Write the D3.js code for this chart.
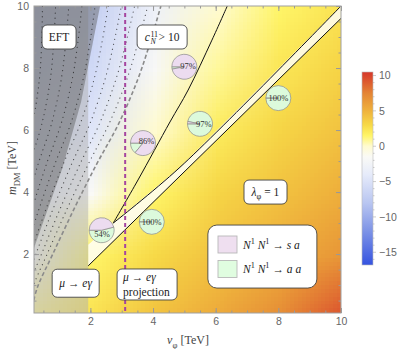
<!DOCTYPE html>
<html>
<head>
<meta charset="utf-8">
<script src="https://cdn.jsdelivr.net/npm/d3@7"></script>
<style>
html, body { margin:0; padding:0; background:#fff; }
svg { display:block; }
.tick text { font-family: "Liberation Sans", Arial, sans-serif; }
</style>
</head>
<body>
<svg id="chart" width="405" height="349"></svg>
<script>
// values
var vGrid = [0, 2, 4, 6, 8, 10];
var mGrid = [0, 2, 4, 6, 8, 10];
// fieldRows[j][i] -> value at m = mGrid[j], v = vGrid[i]
var fieldRows = [
    [1, 2.5, 4.2, 5.5, 7.0, 9.5],
    [-3, 1.5, 3.0, 4.2, 5.3, 6.5],
    [-5, -1.5, 1.5, 3.2, 4.2, 5.2],
    [-6, -4.5, 0.0, 2.0, 3.2, 4.2],
    [-7, -6, -1.8, 0.8, 2.3, 3.3],
    [-8, -7, -3.0, 0.0, 1.5, 2.5]
];
var colorVals = [-16.8, -12, -8, -4, -1.5, 0, 1.5, 3, 5, 7.5, 10.5];
var colorHex = ["#3553e0", "#7d93e6", "#b9c6f1", "#e6ebfa", "#fafaf6", "#fffbd0",
                "#fff568", "#f7d947", "#efb23c", "#e48435", "#d6362a"];
var cbarTicks = [10, 5, 0, -5, -10, -15];
var xTicks = [2, 4, 6, 8, 10];
var yTicks = [2, 4, 6, 8, 10];

var megBound = 1.93;
var eftEdge = [[0.2, 2.2], [1.1, 4.75], [1.7, 6.9], [2.31, 10]];
var cn10Curve = [[0.1, 0.1], [0.3, 0.9], [0.8, 2.0], [1.5, 3.5], [2.2, 4.9], [2.9, 6.2], [3.5, 7.6], [3.9, 8.8], [4.25, 10]];
// other c_N contours: shift at the top of the plot, in TeV
var cnShifts = [0.42, 0.84, 1.26, 1.68, 2.1, 2.52, 2.94, 3.36, 3.78];
var steepCurve = [[2.73, 3.0], [3.52, 4.39], [4.54, 6.26], [5.12, 7.29], [5.88, 8.9], [6.37, 10]];
var stripStart = [1.93, 2.3];
var upperLine = [[2.73, 3.0], [4.86, 4.8], [10, 10]];
var lowerLine = [[1.93, 1.62], [10, 9.6]];
var projV = 3.11;

var pieV = [2.36, 3.96, 3.68, 5.5, 5.0, 8.0];
var pieM = [2.77, 3.04, 5.58, 6.2, 8.04, 7.03];
var pieAA = [54, 100, 14, 97, 3, 100];

var svg = d3.select("#chart");
var x = d3.scaleLinear().domain([0.2, 10]).range([34, 341]);
var y = d3.scaleLinear().domain([0.1, 10]).range([313, 6]);
var color = d3.scaleLinear().domain(colorVals).range(colorHex).clamp(true);
var serif = '"Liberation Serif", "DejaVu Serif", serif';

var defs = svg.append("defs");
defs.append("clipPath").attr("id", "plotClip").append("rect")
    .attr("x", x(0.2)).attr("y", y(10)).attr("width", x(10) - x(0.2)).attr("height", y(0.1) - y(10));

// background field as a small image, smoothed when scaled up
var cv = document.createElement("canvas");
cv.width = vGrid.length;
cv.height = mGrid.length;
var ctx = cv.getContext("2d");
var img = ctx.createImageData(cv.width, cv.height);
for (var j = 0; j < mGrid.length; j++) {
    for (var i = 0; i < vGrid.length; i++) {
        var c = d3.rgb(color(fieldRows[mGrid.length - 1 - j][i]));
        var k = (j * cv.width + i) * 4;
        img.data[k] = c.r; img.data[k + 1] = c.g; img.data[k + 2] = c.b; img.data[k + 3] = 255;
    }
}
ctx.putImageData(img, 0, 0);

var plot = svg.append("g").attr("clip-path", "url(#plotClip)");
var halfV = (vGrid[1] - vGrid[0]) / 2, halfM = (mGrid[1] - mGrid[0]) / 2;
plot.append("image")
    .attr("href", cv.toDataURL())
    .attr("x", x(vGrid[0] - halfV)).attr("y", y(mGrid[mGrid.length - 1] + halfM))
    .attr("width", x(vGrid[vGrid.length - 1] + halfV) - x(vGrid[0] - halfV))
    .attr("height", y(mGrid[0] - halfM) - y(mGrid[mGrid.length - 1] + halfM))
    .attr("preserveAspectRatio", "none");

var line = d3.line().x(function(d){ return x(d[0]); }).y(function(d){ return y(d[1]); });
var smooth = d3.line().x(function(d){ return x(d[0]); }).y(function(d){ return y(d[1]); }).curve(d3.curveCatmullRom);

// resonance strip
var strip = [stripStart].concat(upperLine).concat(lowerLine.slice().reverse());
plot.append("path").attr("d", line(strip) + "Z").attr("fill", "#fff").attr("opacity", 0.8);

// mu -> e gamma band and EFT region
plot.append("rect").attr("x", x(0.2)).attr("y", y(10))
    .attr("width", x(megBound) - x(0.2)).attr("height", y(0.1) - y(10))
    .attr("fill", "#b0b0b0").attr("opacity", 0.5);
plot.append("path").attr("d", line(eftEdge.concat([[0.2, 10]])) + "Z")
    .attr("fill", "#5a5a5a").attr("opacity", 0.45);

// c_N contours, the shift narrows towards small m
cnShifts.forEach(function(s){
    plot.append("path")
        .attr("d", smooth(cn10Curve.map(function(p){ return [p[0] - s * (p[1] + 4) / 14, p[1]]; })))
        .attr("fill", "none").attr("stroke", "#222").attr("stroke-width", 1.2)
        .attr("stroke-linecap", "round").attr("stroke-dasharray", "0.1,5").attr("opacity", 0.75);
});
plot.append("path").attr("d", smooth(cn10Curve))
    .attr("fill", "none").attr("stroke", "#8a8a8a").attr("stroke-width", 1.6)
    .attr("stroke-dasharray", "4,2.5");

// black boundaries
[steepCurve, upperLine, lowerLine].forEach(function(pts){
    plot.append("path").attr("d", smooth(pts))
        .attr("fill", "none").attr("stroke", "#111").attr("stroke-width", 1);
});

// projection line
plot.append("line").attr("x1", x(projV)).attr("x2", x(projV)).attr("y1", y(10)).attr("y2", y(0.1))
    .attr("stroke", "#a5459f").attr("stroke-width", 2).attr("stroke-dasharray", "4,3");

// pies
var pieR = 12.5;
var pie = d3.pie().sort(null).startAngle(1.5 * Math.PI).endAngle(-0.5 * Math.PI);
var arc = d3.arc().innerRadius(0).outerRadius(pieR);
pieV.forEach(function(v, n){
    var g = svg.append("g").attr("transform", "translate(" + x(v) + "," + y(pieM[n]) + ")");
    var aa = pieAA[n];
    var arcs = pie([aa, 100 - aa]);
    g.selectAll("path").data(arcs).enter().append("path")
        .attr("d", arc)
        .attr("fill", function(d, i){ return i === 0 ? "#dcfadc" : "#ecdcf0"; })
        .attr("stroke", "#8a8a8a").attr("stroke-width", 0.7);
    var dom = aa >= 50 ? arcs[0] : arcs[1];
    var mid = (dom.startAngle + dom.endAngle) / 2;
    var off = (aa === 100 || aa === 0) ? 0 : pieR * 0.3;
    g.append("text")
        .attr("x", off * Math.sin(mid)).attr("y", -off * Math.cos(mid) + 3)
        .attr("text-anchor", "middle").attr("font-family", serif).attr("font-size", 8.5)
        .attr("fill", "#333").text(Math.max(aa, 100 - aa) + "%");
});

function rich(t, parts, size) {
    var shift = 0;
    parts.forEach(function(p){
        var kind = p[1] || "r";
        var target = 0, fs = size;
        if (kind.indexOf("sub") >= 0) { target = size * 0.3; fs = size * 0.72; }
        if (kind.indexOf("sup") >= 0) { target = -size * 0.4; fs = size * 0.72; }
        var span = t.append("tspan").text(p[0]).attr("dy", target - shift).attr("font-size", fs);
        if (kind.charAt(0) === "i") span.attr("font-style", "italic");
        shift = target;
    });
}

function box(v, m, w, h, r) {
    svg.append("rect").attr("x", x(v) - w / 2).attr("y", y(m) - h / 2)
        .attr("width", w).attr("height", h).attr("rx", r || 5)
        .attr("fill", "#fff").attr("stroke", "#444").attr("stroke-width", 0.9);
}
function label(v, m, parts, size, anchor, dx) {
    var t = svg.append("text").attr("x", x(v) + (dx || 0)).attr("y", y(m) + size * 0.33)
        .attr("text-anchor", anchor || "middle").attr("font-family", serif)
        .attr("font-size", size).attr("fill", "#222");
    rich(t, parts, size);
    return t;
}

box(1.0, 9.0, 34, 24);
label(1.0, 9.0, [["EFT"]], 11.5);

box(4.29, 9.0, 50, 24);
var cg = svg.append("g").attr("font-family", serif).attr("fill", "#222");
var c0 = cg.append("text").attr("font-size", 11.5).attr("font-style", "italic").text("c");
var sup = cg.append("text").attr("font-size", 8).text("11");
var sub = cg.append("text").attr("font-size", 8).attr("font-style", "italic").text("N");
var rest = cg.append("text").attr("font-size", 11.5).text(" > 10");
var wc = c0.node().getComputedTextLength(), ws = sup.node().getComputedTextLength(), wr = rest.node().getComputedTextLength();
var x0 = x(4.29) - (wc + ws + 1 + wr) / 2, yb = y(9.0) + 4;
c0.attr("x", x0).attr("y", yb);
sup.attr("x", x0 + wc + 0.5).attr("y", yb - 4.5);
sub.attr("x", x0 + wc + 0.5).attr("y", yb + 3);
rest.attr("x", x0 + wc + ws + 1).attr("y", yb);

box(1.53, 1.06, 47, 28);
label(1.53, 1.06, [["μ", "i"], [" → "], ["eγ", "i"]], 11.5);

box(3.81, 1.02, 60, 31);
label(3.81, 1.02, [["μ", "i"], [" → "], ["eγ", "i"]], 11.5, "start", -24).attr("transform", "translate(0,-7)");
label(3.81, 1.02, [["projection"]], 11.5, "start", -24).attr("transform", "translate(0,8)");

box(7.59, 4.0, 43, 24);
label(7.59, 4.0, [["λ", "i"], ["φ", "sub"], [" = 1"]], 11.5);

// legend
box(7.49, 1.92, 109, 63, 9);
[["#efdff0", " s a"], ["#e0fde0", " a a"]].forEach(function(it, n){
    var cy = 244.5 + n * 24.5;
    svg.append("rect").attr("x", 218).attr("y", cy - 8.5).attr("width", 19).attr("height", 17)
        .attr("fill", it[0]).attr("stroke", "#b8b8b8").attr("stroke-width", 0.9);
    var t = svg.append("text").attr("x", 243).attr("y", cy + 4).attr("font-family", serif)
        .attr("font-size", 11.5).attr("fill", "#222");
    rich(t, [["N", "i"], ["1", "sup"], [" "], ["N", "i"], ["1", "sup"], [" → "], [it[1], "i"]], 11.5);
});

// frame and ticks
var minor = d3.range(0.5, 10.01, 0.5);
function ticks(axis, vals, size, tx, ty, lab) {
    var g = svg.append("g").attr("transform", "translate(" + tx + "," + ty + ")")
        .call(axis.tickValues(vals).tickSizeInner(size).tickSizeOuter(0).tickPadding(5)
            .tickFormat(lab ? d3.format("d") : ""));
    g.select(".domain").remove();
    g.selectAll("line").attr("stroke", "#999");
    g.selectAll("text").attr("fill", "#666").attr("font-size", 10.5);
    return g;
}
ticks(d3.axisBottom(x), xTicks, -5, 0, y(0.1), true);
ticks(d3.axisBottom(x), minor.filter(function(d){ return d >= 0.2; }), -2.5, 0, y(0.1), false);
ticks(d3.axisTop(x), xTicks, -5, 0, y(10), false);
ticks(d3.axisTop(x), minor.filter(function(d){ return d >= 0.2; }), -2.5, 0, y(10), false);
ticks(d3.axisLeft(y), yTicks, -5, x(0.2), 0, true);
ticks(d3.axisLeft(y), minor.filter(function(d){ return d >= 0.1; }), -2.5, x(0.2), 0, false);
ticks(d3.axisRight(y), yTicks, -5, x(10), 0, false);
ticks(d3.axisRight(y), minor.filter(function(d){ return d >= 0.1; }), -2.5, x(10), 0, false);
svg.append("rect").attr("x", x(0.2)).attr("y", y(10)).attr("width", x(10) - x(0.2)).attr("height", y(0.1) - y(10))
    .attr("fill", "none").attr("stroke", "#a0a0a0").attr("stroke-width", 1);

// axis titles
var xt = svg.append("text").attr("x", 188).attr("y", 344).attr("text-anchor", "middle")
    .attr("font-family", serif).attr("font-size", 12).attr("fill", "#444");
rich(xt, [["v", "i"], ["φ", "sub"], ["   [TeV]"]], 12);
var yt = svg.append("text").attr("transform", "translate(16,168) rotate(-90)").attr("text-anchor", "middle")
    .attr("font-family", serif).attr("font-size", 12).attr("fill", "#444");
rich(yt, [["m", "i"], ["DM", "sub"], ["   [TeV]"]], 12);

// colour bar
var cb = d3.scaleLinear().domain([colorVals[0], colorVals[colorVals.length - 1]]).range([265, 72]);
var grad = defs.append("linearGradient").attr("id", "cbarGrad")
    .attr("x1", 0).attr("y1", 1).attr("x2", 0).attr("y2", 0);
colorVals.forEach(function(v, i){
    grad.append("stop").attr("offset", (v - colorVals[0]) / (colorVals[colorVals.length - 1] - colorVals[0]))
        .attr("stop-color", colorHex[i]);
});
svg.append("rect").attr("x", 362).attr("y", 72).attr("width", 11).attr("height", 193)
    .attr("fill", "url(#cbarGrad)").attr("stroke", "#bbb").attr("stroke-width", 0.6);
d3.range(-16, 11, 1).forEach(function(v){
    var major = cbarTicks.indexOf(v) >= 0;
    svg.append("line").attr("x1", 373).attr("x2", 373 + (major ? 3 : 1.5))
        .attr("y1", cb(v)).attr("y2", cb(v)).attr("stroke", "#aaa").attr("stroke-width", 0.6);
});
cbarTicks.forEach(function(v){
    svg.append("text").attr("x", 379).attr("y", cb(v) + 3.7)
        .attr("font-family", '"Liberation Sans", Arial, sans-serif').attr("font-size", 10.5)
        .attr("fill", "#666").text(v < 0 ? "\u2212" + (-v) : v);
});
</script>
</body>
</html>
